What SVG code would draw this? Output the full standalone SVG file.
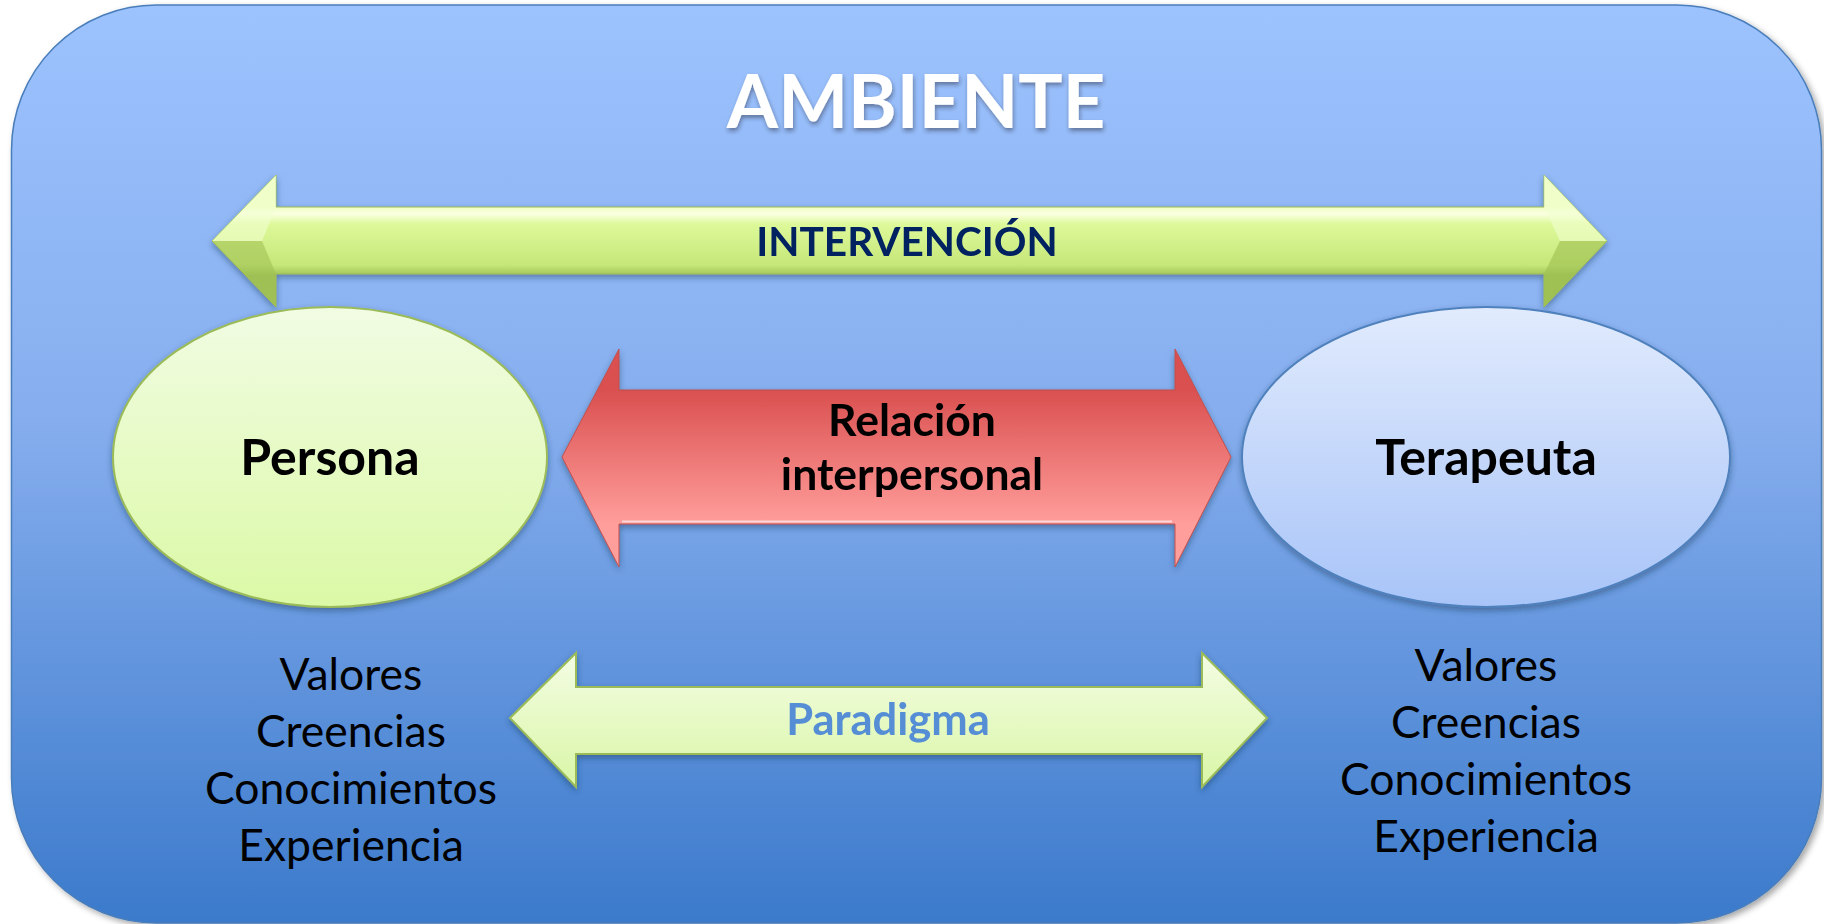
<svg xmlns="http://www.w3.org/2000/svg" width="1824" height="924" viewBox="0 0 1824 924">
  <defs>
    <linearGradient id="bg" x1="0" y1="5" x2="0" y2="924" gradientUnits="userSpaceOnUse">
      <stop offset="0" stop-color="#9DC3FE"/>
      <stop offset="0.45" stop-color="#86AEEE"/>
      <stop offset="1" stop-color="#3B7ACB"/>
    </linearGradient>
    <linearGradient id="gInt" x1="0" y1="207" x2="0" y2="275" gradientUnits="userSpaceOnUse">
      <stop offset="0" stop-color="#EEFFC0"/>
      <stop offset="0.1" stop-color="#FBFFE2"/>
      <stop offset="0.25" stop-color="#DDF99A"/>
      <stop offset="0.85" stop-color="#C6E779"/>
      <stop offset="1" stop-color="#A3C459"/>
    </linearGradient>
    <linearGradient id="gRed" x1="0" y1="390" x2="0" y2="524" gradientUnits="userSpaceOnUse">
      <stop offset="0" stop-color="#DA5050"/>
      <stop offset="1" stop-color="#FF9E9B"/>
    </linearGradient>
    <linearGradient id="gPar" x1="0" y1="652" x2="0" y2="788" gradientUnits="userSpaceOnUse">
      <stop offset="0" stop-color="#F4FDE4"/>
      <stop offset="1" stop-color="#D9F6A6"/>
    </linearGradient>
    <linearGradient id="gPer" x1="0" y1="0" x2="0" y2="1">
      <stop offset="0" stop-color="#F1FCE3"/>
      <stop offset="1" stop-color="#DBF9A6"/>
    </linearGradient>
    <linearGradient id="gTer" x1="0" y1="0" x2="0" y2="1">
      <stop offset="0" stop-color="#E1EBFD"/>
      <stop offset="1" stop-color="#A8C4F8"/>
    </linearGradient>
    <filter id="sh" x="-10%" y="-20%" width="120%" height="150%">
      <feDropShadow dx="0" dy="3" stdDeviation="3" flood-color="#1A3050" flood-opacity="0.45"/>
    </filter>
    <filter id="bgsh" x="-5%" y="-5%" width="110%" height="110%">
      <feDropShadow dx="3" dy="3" stdDeviation="3" flood-color="#000" flood-opacity="0.35"/>
    </filter>
    <filter id="tsh" x="-10%" y="-20%" width="120%" height="150%">
      <feDropShadow dx="1" dy="3" stdDeviation="2" flood-color="#223" flood-opacity="0.45"/>
    </filter>
    <style>
      .bold { font-family: Lato, "Open Sans", "Liberation Sans", sans-serif; font-weight: bold; text-anchor: middle; }
      .reg { font-family: Lato, "Open Sans", "Liberation Sans", sans-serif; font-weight: normal; text-anchor: middle; font-size: 44.5px; fill: #000; }
      .node-label { font-size: 50px; fill: #000; }
    </style>
  </defs>

  <g id="ambiente">
    <rect x="11.5" y="5" width="1810" height="918" rx="145" ry="145" fill="url(#bg)" stroke="#4A7EBB" stroke-width="1.5" filter="url(#bgsh)"/>
    <text x="916" y="128" class="bold" font-size="74" fill="#FFFFFF" filter="url(#tsh)">AMBIENTE</text>
  </g>

  <g id="connectors">
    <g id="intervencion" filter="url(#sh)">
      <polygon points="212,241 276,175 276,207 1544,207 1544,175 1607,241 1544,307 1544,274 276,274 276,307" fill="url(#gInt)" stroke="#9BBB59" stroke-width="1"/>
      <polygon points="212,241 276,175 276,207 262,241" fill="#F2FFD0" opacity="0.6"/>
      <polygon points="212,241 262,241 276,274 276,307" fill="#9DBE50" opacity="0.55"/>
      <polygon points="1607,241 1544,175 1544,207 1560,241" fill="#F2FFD0" opacity="0.6"/>
      <polygon points="1607,241 1560,241 1544,274 1544,307" fill="#9DBE50" opacity="0.6"/>
      <text x="907" y="256" class="bold" font-size="40.5" fill="#002060">INTERVENCIÓN</text>
    </g>
    <g id="relacion" filter="url(#sh)">
      <polygon points="562,457 619,349 619,390 1175,390 1175,349 1231,457 1175,567 1175,524 619,524 619,567" fill="url(#gRed)" stroke="#C0504D" stroke-width="1"/>
      <line x1="622" y1="521.5" x2="1172" y2="521.5" stroke="#FFFFFF" stroke-width="2" opacity="0.6"/>
      <text x="912" y="436" class="bold" font-size="44.5" fill="#000">Relación</text>
      <text x="912" y="490" class="bold" font-size="44.5" fill="#000">interpersonal</text>
    </g>
    <g id="paradigma" filter="url(#sh)">
      <polygon points="510,718 576,653 576,687 1202,687 1202,653 1267,718 1202,787 1202,754 576,754 576,787" fill="url(#gPar)" stroke="#9BBB59" stroke-width="2"/>
      <text x="888" y="735" class="bold" font-size="43.5" fill="#558ED5">Paradigma</text>
    </g>
  </g>

  <g id="persona">
    <ellipse cx="330" cy="457" rx="217" ry="150" fill="url(#gPer)" stroke="#9BBB59" stroke-width="2" filter="url(#sh)"/>
    <text x="330" y="475" class="bold node-label">Persona</text>
  </g>

  <g id="terapeuta">
    <ellipse cx="1486" cy="457" rx="244" ry="150" fill="url(#gTer)" stroke="#4F81BD" stroke-width="2" filter="url(#sh)"/>
    <text x="1486" y="475" class="bold node-label">Terapeuta</text>
  </g>

  <g id="persona-atributos">
    <text x="351" y="690" class="reg">Valores</text>
    <text x="351" y="747" class="reg">Creencias</text>
    <text x="351" y="804" class="reg">Conocimientos</text>
    <text x="351" y="861" class="reg">Experiencia</text>
  </g>

  <g id="terapeuta-atributos">
    <text x="1486" y="681" class="reg">Valores</text>
    <text x="1486" y="738" class="reg">Creencias</text>
    <text x="1486" y="795" class="reg">Conocimientos</text>
    <text x="1486" y="852" class="reg">Experiencia</text>
  </g>
</svg>
